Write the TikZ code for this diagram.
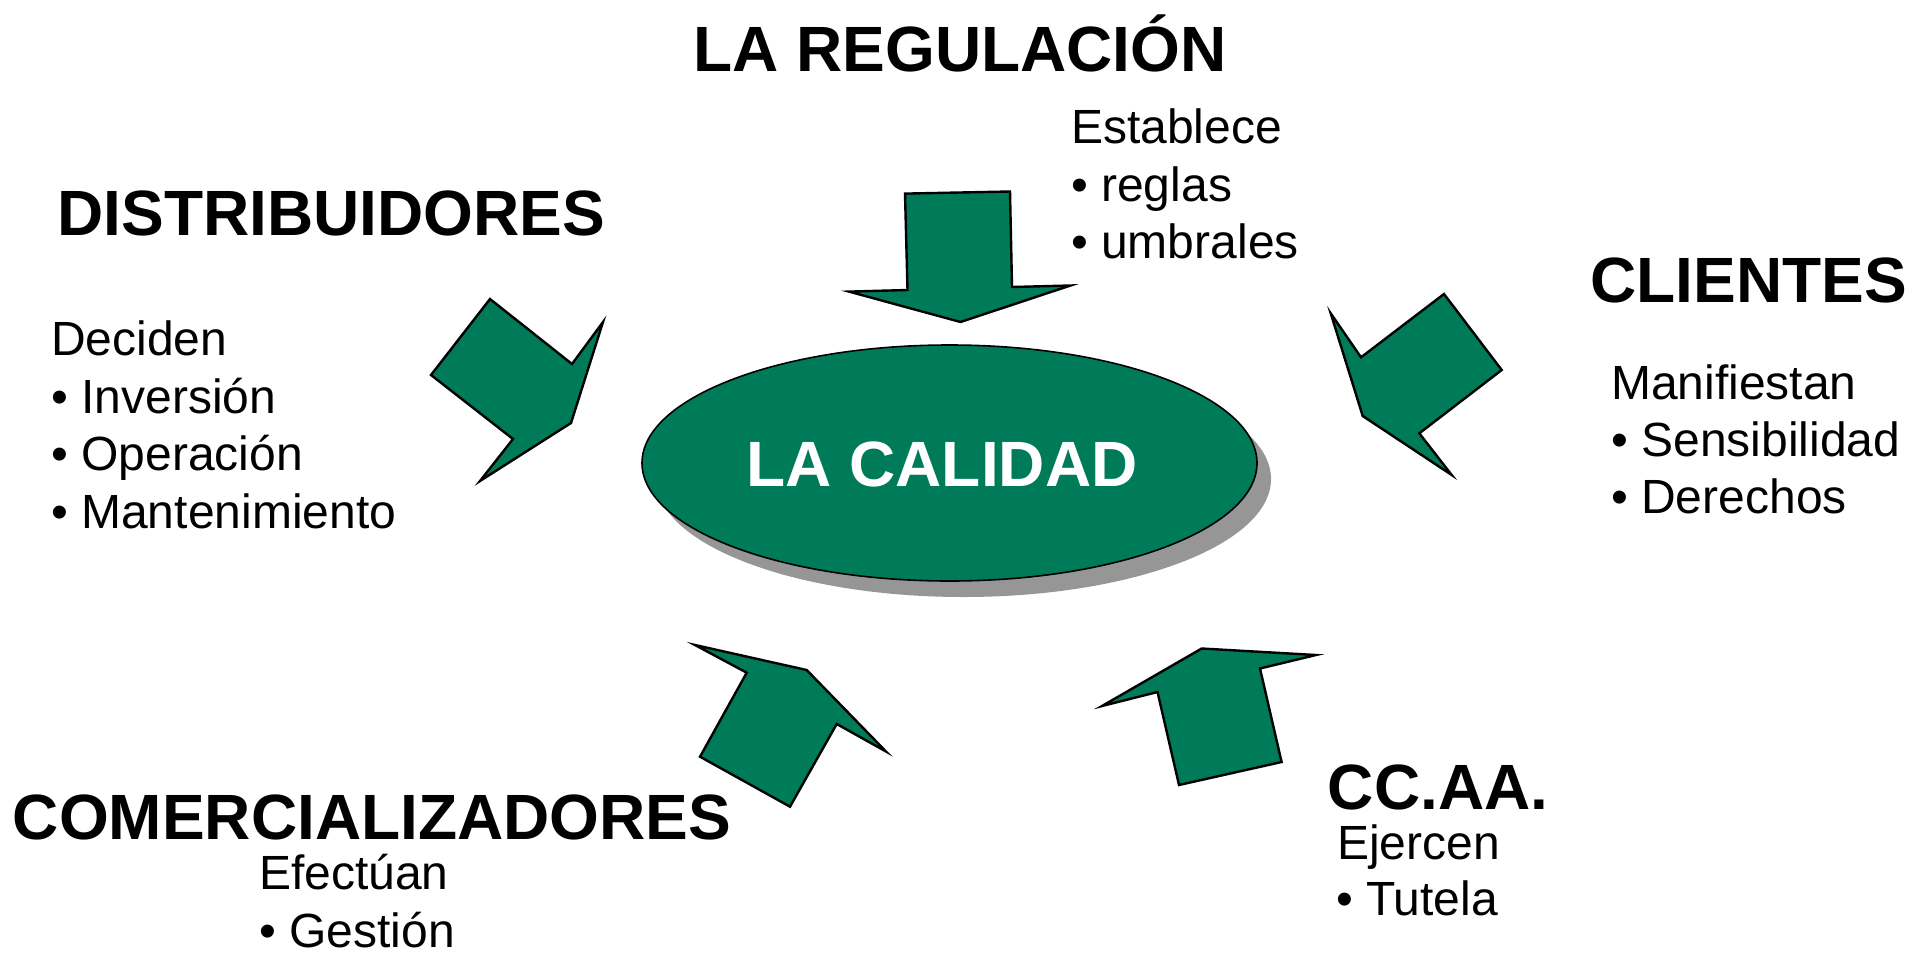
\documentclass[tikz,border=0pt]{standalone}
\usepackage{fontspec}
\setmainfont{Liberation Sans}
\usetikzlibrary{shapes.geometric,shadows}
\definecolor{qgreen}{RGB}{0,123,90}
\definecolor{qshadow}{RGB}{150,150,150}
\begin{document}
\begin{tikzpicture}[x=1pt,y=-1pt,
  head/.style={font=\fontsize{64}{77}\selectfont\bfseries, inner sep=0, anchor=base},
  sub/.style={font=\fontsize{48}{57}\selectfont, inner sep=0, anchor=base west},
  blockarrow/.style={draw=black, line width=2.4pt, fill=qgreen, line join=miter}]
\useasboundingbox (0,0) rectangle (1921,956);
\fill[white] (0,0) rectangle (1921,956);

% central ellipse
\node[ellipse, draw=black, line width=1.6pt, fill=qgreen, minimum width=615pt, minimum height=236pt, inner sep=0,
  drop shadow={shadow xshift=14pt, shadow yshift=-16pt, fill=qshadow, opacity=1}] (calidad) at (949.5,463) {};
\node[head, text=white] (calidadtxt) at (942,486) {LA CALIDAD};

% block arrows
\draw[blockarrow] (490,299) -- (572,364) -- (603,322) -- (571,423) -- (480,481) -- (513,439) -- (431,375) -- cycle;
\draw[blockarrow] (905,193.6) -- (1010,191.5) -- (1012,287) -- (1070.5,285.5) -- (960.5,322) -- (849,291.6) -- (907.5,290) -- cycle;
\draw[blockarrow] (1444,294) -- (1501.7,370) -- (1419.3,433.3) -- (1451.7,475) -- (1362.7,416) -- (1330.7,313.3) -- (1361,357.3) -- cycle;
\draw[blockarrow] (695,645) -- (806.7,670) -- (886,751.5) -- (836.7,724) -- (790,806.7) -- (700,756.7) -- (746.7,672.7) -- cycle;
\draw[blockarrow] (1201.7,648.5) -- (1316,655) -- (1260,668.5) -- (1281.6,762) -- (1179,785) -- (1157.5,692) -- (1102,706) -- cycle;

% headings
\node[head] (regulacion) at (960,71) {LA REGULACIÓN};
\node[head] (distrib) at (331.5,235) {DISTRIBUIDORES};
\node[head] (clientes) at (1748.5,302.6) {CLIENTES};
\node[head] (comerc) at (372,839) {COMERCIALIZADORES};
\node[head] (ccaa) at (1438,809) {CC.AA.};

% sub texts
\node[sub] (est) at (1071,143) {Establece};
\node[sub] (reg) at (1071,201) {• reglas};
\node[sub] (umb) at (1071,258.5) {• umbrales};

\node[sub] (dec) at (51,355) {Deciden};
\node[sub] (inv) at (51,413) {• Inversión};
\node[sub] (ope) at (51,470) {• Operación};
\node[sub] (man) at (51,528) {• Mantenimiento};

\node[sub] (manif) at (1611,399) {Manifiestan};
\node[sub] (sens) at (1611,456) {• Sensibilidad};
\node[sub] (der) at (1611,513) {• Derechos};

\node[sub] (ejer) at (1337,859) {Ejercen};
\node[sub] (tut) at (1336,915) {• Tutela};

\node[sub] (efec) at (259,889) {Efectúan};
\node[sub] (gest) at (259,947) {• Gestión};
\end{tikzpicture}
\end{document}
